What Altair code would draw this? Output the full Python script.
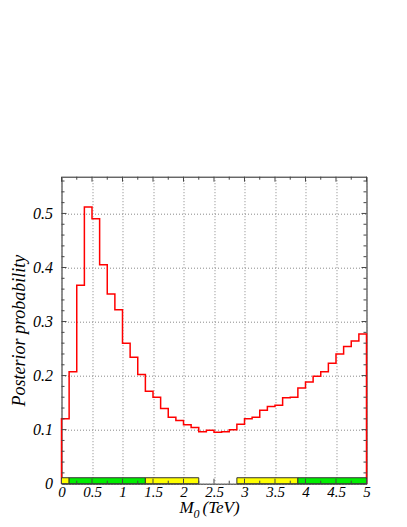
import altair as alt
import pandas as pd
import numpy as np

# ---- data ----
bin_width = 0.125
posterior = [0.120, 0.207, 0.367, 0.512, 0.490, 0.405, 0.351, 0.322, 0.260, 0.234,
             0.202, 0.171, 0.160, 0.139, 0.123, 0.117, 0.109, 0.104, 0.096, 0.099,
             0.095, 0.096, 0.100, 0.110, 0.120, 0.123, 0.136, 0.143, 0.145, 0.159,
             0.160, 0.177, 0.188, 0.199, 0.207, 0.223, 0.240, 0.254, 0.264, 0.277]
band_start = [0.0, 0.125, 1.375, 2.875, 3.875]
band_end = [0.125, 1.375, 2.25, 3.875, 5.0]
band_kind = ["68%", "95%", "68%", "68%", "95%"]
band_top = 0.011
x_ticks = [0, 0.5, 1, 1.5, 2, 2.5, 3, 3.5, 4, 4.5, 5]
y_ticks = [0, 0.1, 0.2, 0.3, 0.4, 0.5]

W, H = 305, 307
XD = [0, 5]
YD = [0, 0.568]
FONT = "Liberation Serif"

n = len(posterior)
edges = [i * bin_width for i in range(n)]
step_x = [0.0] + edges + [n * bin_width, n * bin_width]
step_y = [0.0] + posterior + [posterior[-1], 0.0]
hist = pd.DataFrame({"m": step_x, "p": step_y, "o": range(len(step_x))})

bands = pd.DataFrame({"x0": band_start, "x1": band_end, "kind": band_kind,
                      "y0": [0.0] * len(band_start), "y1": [band_top] * len(band_start)})

xs = alt.Scale(domain=XD, nice=False, zero=False)
ys = alt.Scale(domain=YD, nice=False, zero=False)

AX = alt.Axis(values=x_ticks, format="~g", grid=True, gridDash=[1, 2],
              gridColor="#888", gridWidth=1, ticks=False, tickSize=0,
              domain=False, labelFont=FONT, labelFontStyle="italic",
              labelFontSize=15, labelColor="#000", labelPadding=1,
              labelOverlap=False, title=None, labelFlush=False)
AY = alt.Axis(values=y_ticks, format="~g", grid=True, gridDash=[1, 2],
              gridColor="#888", gridWidth=1, ticks=False, tickSize=0,
              domain=False, labelFont=FONT, labelFontStyle="italic",
              labelFontSize=16, labelColor="#000", labelPadding=9,
              labelOverlap=False,
              title="Posterior probability", titleFont=FONT,
              titleFontStyle="italic", titleFontWeight="normal",
              titleFontSize=18, titleColor="#000", titleX=-37,
              titleY=H / 2, titleAngle=270, titleBaseline="alphabetic",
              titleAlign="center", labelFlush=False)

line = alt.Chart(hist).mark_line(interpolate="step-after", color="#ff0000",
                                 strokeWidth=1.5).encode(
    x=alt.X("m:Q", scale=xs, axis=AX),
    y=alt.Y("p:Q", scale=ys, axis=AY),
    order="o:Q",
)

band_layer = alt.Chart(bands).mark_rect(stroke="#333", strokeWidth=1).encode(
    x=alt.X("x0:Q", scale=xs, axis=AX),
    x2="x1:Q",
    y=alt.Y("y0:Q", scale=ys, axis=AY),
    y2="y1:Q",
    color=alt.Color("kind:N", scale=alt.Scale(domain=["68%", "95%"],
                                              range=["#ffff00", "#00ee00"]),
                    legend=None),
)

# tick marks (inside the frame, all four sides)
xminor = pd.DataFrame({"v": np.round(np.arange(0, 5.001, 0.25), 3)})
xminor["len"] = np.where(np.isclose(xminor["v"] % 0.5, 0), 5, 3)
yminor = pd.DataFrame({"v": np.round(np.arange(0, 0.561, 0.02), 3)})
yminor["len"] = [5 if abs(v * 10 - round(v * 10)) < 1e-6 else 3 for v in yminor["v"]]

tick_layers = []
for side in ["bottom", "top"]:
    for ln in [3, 5]:
        d = xminor[xminor["len"] == ln]
        if side == "bottom":
            enc = dict(y=alt.value(H), y2=alt.value(H - ln))
        else:
            enc = dict(y=alt.value(0), y2=alt.value(ln))
        tick_layers.append(alt.Chart(d).mark_rule(color="#444", strokeWidth=1).encode(
            x=alt.X("v:Q", scale=xs, axis=AX), **enc))
for side in ["left", "right"]:
    for ln in [3, 5]:
        d = yminor[yminor["len"] == ln]
        if side == "left":
            enc = dict(x=alt.value(0), x2=alt.value(ln))
        else:
            enc = dict(x=alt.value(W), x2=alt.value(W - ln))
        tick_layers.append(alt.Chart(d).mark_rule(color="#444", strokeWidth=1).encode(
            y=alt.Y("v:Q", scale=ys, axis=AY), **enc))

# x-axis title with subscript
tdf = pd.DataFrame({"a": ["M"], "b": ["0"], "c": ["(TeV)"]})
t_m = alt.Chart(tdf).mark_text(font=FONT, fontStyle="italic", fontSize=17, align="left",
                               baseline="alphabetic", color="#000").encode(
    text="a:N", x=alt.value(118), y=alt.value(H + 29))
t_0 = alt.Chart(tdf).mark_text(font=FONT, fontStyle="italic", fontSize=12, align="left",
                               baseline="alphabetic", color="#000").encode(
    text="b:N", x=alt.value(132), y=alt.value(H + 34))
t_c = alt.Chart(tdf).mark_text(font=FONT, fontStyle="italic", fontSize=17, align="left",
                               baseline="alphabetic", color="#000").encode(
    text="c:N", x=alt.value(141), y=alt.value(H + 29))

chart = alt.layer(line, band_layer, *tick_layers, t_m, t_0, t_c).properties(
    width=W, height=H,
    autosize=alt.AutoSizeParams(type="none"),
    padding={"left": 53.5, "top": 168.7, "right": 30, "bottom": 40},
    background="white",
).configure_view(stroke="#222", strokeWidth=1)

chart.save("out.html", embed_options={"renderer": "svg", "actions": False})
